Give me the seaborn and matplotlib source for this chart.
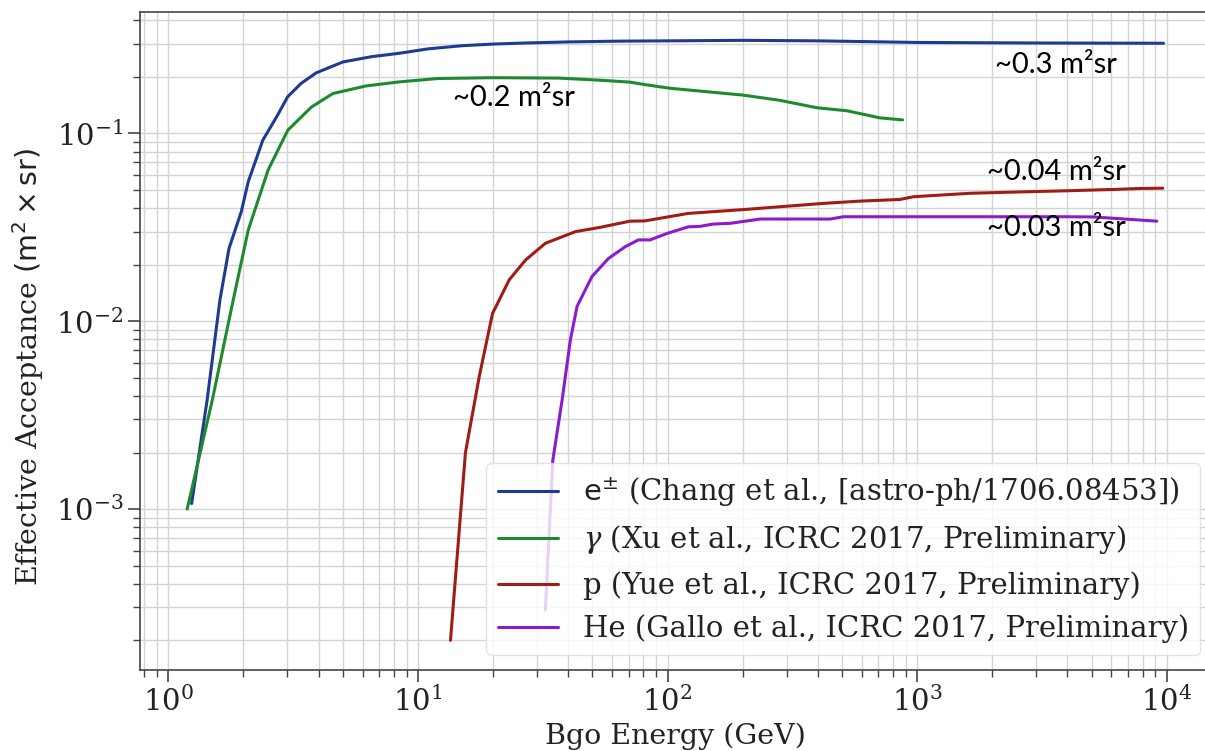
import numpy as np
import pandas as pd
import matplotlib
matplotlib.use("Agg")
import matplotlib.pyplot as plt
import seaborn as sns

# Effective acceptance vs. deposited BGO energy
electron_energy = [1.24, 1.43, 1.61, 1.75, 1.96, 2.09, 2.39, 2.71, 3.01, 3.41, 3.91, 5.0, 6.5, 8.4,
                   11, 15, 20, 27, 40, 65, 100, 200, 400, 1000, 3000, 9700]
electron_accept = [1.07e-3, 3.8e-3, 0.013, 0.0244, 0.0383, 0.0553, 0.092, 0.122, 0.157, 0.185, 0.21,
                   0.24, 0.256, 0.267, 0.282, 0.293, 0.299, 0.303, 0.307, 0.310, 0.311, 0.313, 0.311,
                   0.305, 0.303, 0.302]

gamma_energy = [1.19, 1.50, 1.82, 2.09, 2.51, 3.01, 3.74, 4.56, 6.2, 8.4, 12, 20, 36.7, 53.6, 70.7,
                81, 102, 200, 282, 396, 523, 709, 875]
gamma_accept = [1.0e-3, 3.8e-3, 0.013, 0.0306, 0.0638, 0.104, 0.138, 0.163, 0.179, 0.188, 0.196,
                0.198, 0.197, 0.192, 0.1875, 0.182, 0.174, 0.160, 0.150, 0.137, 0.132, 0.121, 0.118]

proton_energy = [13.5, 15.5, 17.6, 19.9, 23.2, 27.0, 32.4, 42.8, 53.6, 70.7, 81, 121, 152, 207, 282,
                 421, 590, 853, 966, 1630, 2750, 3980, 6110, 7810, 9640]
proton_accept = [2.0e-4, 2.0e-3, 5.07e-3, 0.011, 0.0166, 0.0212, 0.026, 0.030, 0.0316, 0.0341, 0.0342,
                 0.0375, 0.0383, 0.0394, 0.0407, 0.0424, 0.0436, 0.0445, 0.046, 0.048, 0.0489, 0.0495,
                 0.0503, 0.0509, 0.0511]

helium_energy = [32.4, 34.7, 37.8, 40.8, 43.4, 49.8, 58, 67.6, 76.4, 85, 100, 121, 135, 152, 178, 235,
                 448, 507, 853, 3980, 5100, 9120]
helium_accept = [2.9e-4, 1.82e-3, 3.8e-3, 7.95e-3, 0.012, 0.0173, 0.0216, 0.0249, 0.0271, 0.0271,
                 0.0294, 0.0318, 0.032, 0.0329, 0.0332, 0.035, 0.035, 0.036, 0.036, 0.036, 0.0359, 0.0341]

series_labels = [
    r"$\mathsf{e^{\pm}}$ (Chang et al., [astro-ph/1706.08453])",
    r"$\gamma$ (Xu et al., ICRC 2017, Preliminary)",
    r"p (Yue et al., ICRC 2017, Preliminary)",
    r"He (Gallo et al., ICRC 2017, Preliminary)",
]
series_colors = ["#1f3a93", "#1e8a2e", "#a01c14", "#8a1ccc"]

annotations = ["~0.3 m²sr", "~0.2 m²sr", "~0.04 m²sr", "~0.03 m²sr"]
annotation_pos = [(2050, 0.231), (13.8, 0.154), (1900, 0.0625), (1900, 0.0313)]

frames = []
for label, e, a in zip(series_labels,
                       [electron_energy, gamma_energy, proton_energy, helium_energy],
                       [electron_accept, gamma_accept, proton_accept, helium_accept]):
    frames.append(pd.DataFrame({"energy": e, "acceptance": a, "series": label}))
df = pd.concat(frames, ignore_index=True)

sns.set_theme(style="ticks")
plt.rcParams["font.family"] = ["DejaVu Serif"]
plt.rcParams["mathtext.fontset"] = "dejavuserif"

fig = plt.figure(figsize=(12.05, 7.51), dpi=100)
ax = fig.add_axes([140 / 1205, 81 / 751, 1070 / 1205, 658 / 751])

sns.lineplot(data=df, x="energy", y="acceptance", hue="series", hue_order=series_labels,
             palette=series_colors, sort=False, estimator=None, linewidth=2.2, ax=ax)

ax.set_xscale("log")
ax.set_yscale("log")
ax.set_xlim(0.77, 1.49e4)
ax.set_ylim(1.39e-4, 0.443)

ax.grid(True, which="both", color="#d4d4d4", linewidth=1.0)
ax.set_axisbelow(True)
for side in ["left", "bottom", "top"]:
    ax.spines[side].set_color("#444444")
    ax.spines[side].set_linewidth(1.2)
ax.spines["right"].set_visible(False)

ax.tick_params(axis="both", which="major", labelsize=21, length=8.5, width=1.2, color="#444444",
               labelcolor="#222222")
ax.tick_params(axis="both", which="minor", length=5, width=1.0, color="#444444")

ax.set_xlabel("Bgo Energy (GeV)", fontsize=20.5, color="#222222")
ax.xaxis.set_label_coords(0.5, -0.08)
ax.set_ylabel(r"Effective Acceptance $\mathsf{(m^2 \times sr)}$", fontsize=20.5, color="#222222")
ax.yaxis.set_label_coords(-0.088, 0.46)

for text, (x, y) in zip(annotations, annotation_pos):
    ax.text(x, y, text, fontsize=21, family=["Lato", "DejaVu Sans"], ha="left", va="center",
            color="black")

leg = ax.legend(loc="lower right", bbox_to_anchor=(0.991, 0.023), borderaxespad=0,
                fontsize=21, handlelength=2.05, handletextpad=0.85, framealpha=0.8,
                edgecolor="#dddddd", fancybox=True)
for t in leg.get_texts():
    t.set_color("#222222")

fig.savefig("out.png", dpi=100)
